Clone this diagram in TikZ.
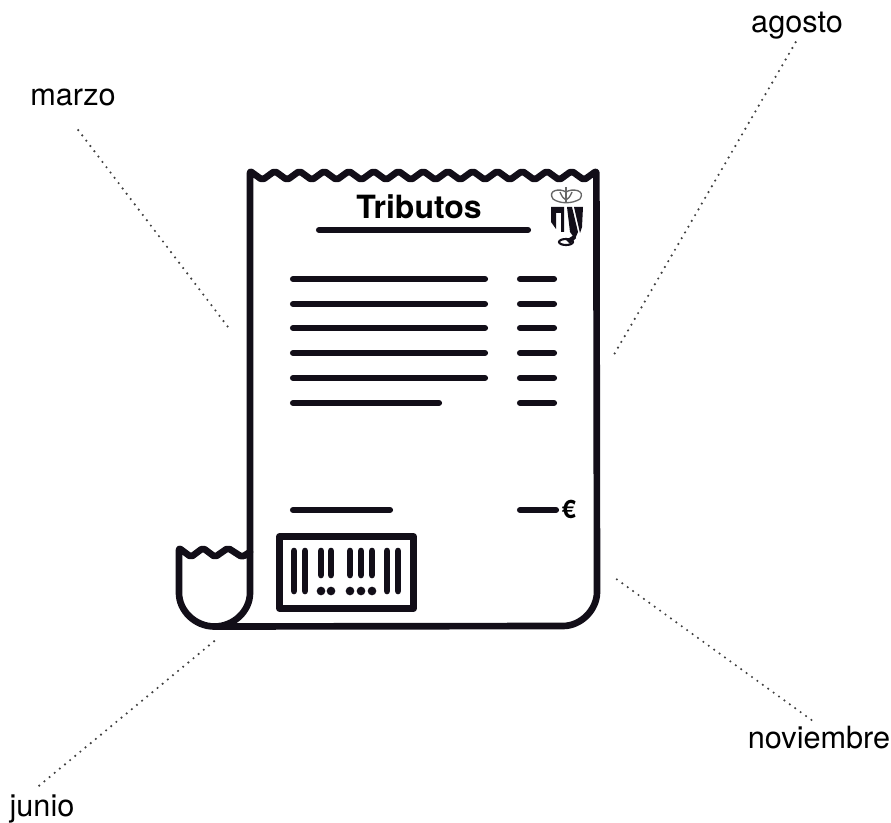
\documentclass[tikz,border=0pt]{standalone}
\usepackage{fontspec}
\setmainfont{TeX Gyre Heros}
\usetikzlibrary{positioning, calc}
\definecolor{ink}{RGB}{18,14,24}
\tikzset{
  month/.style={font=\fontsize{23}{25}\selectfont, inner sep=0pt, anchor=base},
  guide/.style={line width=1.8pt, line cap=round, dash pattern=on 0pt off 5pt, black!75},
  outline/.style={line width=5pt, line join=round, line cap=round, rounded corners=1.5pt, draw=ink},
  textline/.style={line width=4.6pt, line cap=round, draw=ink},
  codebar/.style={line width=5pt, line cap=round, draw=ink},
  codedot/.style={circle, fill=ink, inner sep=0pt, minimum size=6.5pt},
  crest/.style={fill=ink},
  crown/.style={line width=1pt, draw=black!60}
}
\begin{document}
\begin{tikzpicture}[x=0.75pt, y=-0.75pt]
  \useasboundingbox (0,0) rectangle (891,823);

  % Months
  \node[month] (marzo) at (73,106) {marzo};
  \node[month] (agosto) at (797,33) {agosto};
  \node[month] (noviembre) at (819,748) {noviembre};
  \node[month] (junio) at (42,816) {junio};
  \coordinate (marzoend) at (228,327);
  \coordinate (agostoend) at (612,358);
  \coordinate (noviembreend) at (615,578);
  \coordinate (junioend) at (218,638);
  \draw[guide, shorten <=22pt] (marzo.-145) -- (marzoend);
  \draw[guide, shorten <=2pt] (agosto.south) -- (agostoend);
  \draw[guide, shorten <=7pt] (noviembre.north) -- (noviembreend);
  \draw[guide, shorten <=10pt] (junio.132) -- (junioend);

  % Receipt
  \draw[outline] (250,552) -- (250,171)
    \foreach \i in {0,...,13} {
      -- ++(12.37,9) -- ++(12.37,-9)
    }
    -- (597,590) arc[start angle=0, end angle=90, radius=36] -- (214,626.5);
  % Curl at the bottom
  \draw[outline] (250,552) -- (242,557) -- (228,548) -- (215,557) -- (203,548) -- (191,557) -- (179,548)
    -- (179,591) arc[start angle=180, end angle=0, radius=35.5] -- (250,552);

  % Title
  \node[font=\fontsize{24}{26}\selectfont\bfseries, inner sep=0pt] (title) at (419,207) {Tributos};
  \draw[textline] (319,230) -- (528,230);

  % Crest
  \draw[crown] (553,199) .. controls (547,190) and (560,188) .. (566,192)
    .. controls (572,188) and (586,190) .. (580,199) .. controls (572,204) and (560,204) .. (553,199) -- cycle;
  \draw[crown] (566,187) -- (566,202);
  \draw[crown] (560,192) .. controls (562,197) and (564,199) .. (566,200) .. controls (568,199) and (570,197) .. (572,192);
  \fill[crest] (551,207) -- (564,207) -- (564,232) -- (561,232) -- (561,213) -- (556,213) -- (556,229) -- (551,222) -- cycle;
  \fill[crest] (574,207) -- (583,207) -- (582,227) -- (580,233) -- cycle;
  \fill[crest] (567,207) -- (572,207) -- (578,232) -- (575,239) -- (570,232) -- cycle;
  \draw[line width=1.6pt, draw=ink] (566,242) ellipse (7 and 3);
  \fill[crest] (566,240) -- (574,235) -- (576,238) -- (570,244) -- cycle;

  % Lines of text
  \foreach \y in {279,304,328,353,378} {
    \draw[textline] (293,\y) -- (485,\y);
  }
  \draw[textline] (293,403) -- (439,403);
  \foreach \y in {279,304,328,353,378,403} {
    \draw[textline] (520,\y) -- (554,\y);
  }

  % Total
  \draw[textline] (293,510) -- (390,510);
  \draw[textline] (520,510) -- (556,510);
  \node[font=\fontsize{19}{21}\selectfont\bfseries, inner sep=0pt] (euro) at (569,509) {€};

  % Barcode
  \draw[line width=5pt, line join=round, draw=ink] (279.5,536.5) rectangle (413.5,608.5);
  \foreach \x in {294,305,387,398} {
    \draw[codebar] (\x,551) -- (\x,591);
  }
  \foreach \x in {321,331,350,361,372} {
    \draw[codebar] (\x,551) -- (\x,575);
    \node[codedot] (dot\x) at (\x,591) {};
  }
\end{tikzpicture}
\end{document}
